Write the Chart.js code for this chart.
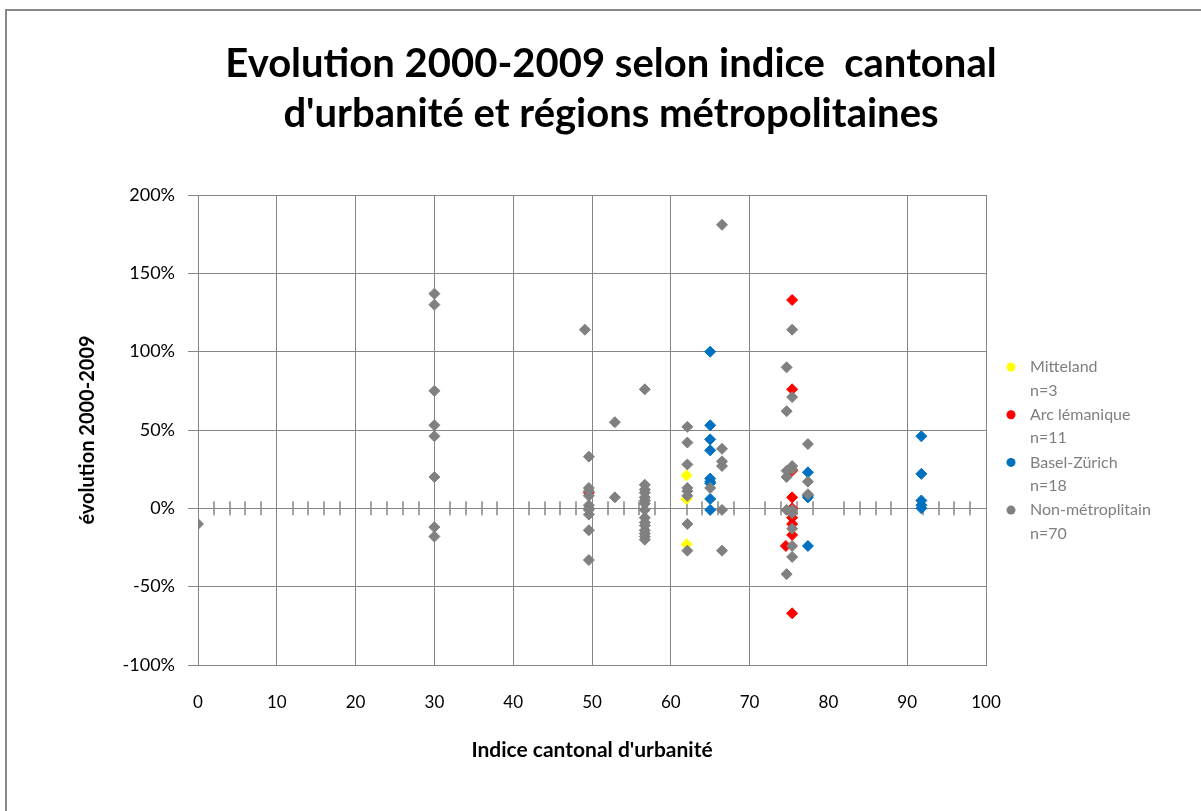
<!DOCTYPE html>
<html>
<head>
<meta charset="utf-8">
<title>Evolution 2000-2009</title>
<script src="https://cdn.jsdelivr.net/npm/chart.js@4.4.0/dist/chart.umd.min.js"></script>
<style>
  html, body { margin: 0; padding: 0; background: #fff; overflow: hidden; }
  #frame {
    position: absolute; left: 5px; top: 9px; width: 1300px; height: 900px;
    border-top: 2px solid #888; border-left: 2px solid #888;
  }
  #chart { position: absolute; left: 0; top: 0; }
</style>
</head>
<body>
<div id="frame"></div>
<canvas id="chart" width="1201" height="811"></canvas>
<script>
'use strict';

// [indice d'urbanité, évolution en %]
let mitteland = [
  [62, 21], [62, 6], [62, -23]
];

let arcLemanique = [
  [49.6, 10],
  [75.4, 133], [75.4, 76], [75.4, 24], [75.4, 7], [75.4, 0], [75.4, -6],
  [75.4, -10], [75.4, -17], [74.6, -24], [75.4, -67]
];

let baselZurich = [
  [65, 100], [65, 53], [65, 44], [65, 37], [65, 19], [65, 17], [65, 16], [65, 6], [65, -1],
  [77.4, 23], [77.4, 8], [77.4, 7], [77.4, -24],
  [91.8, 46], [91.8, 22], [91.8, 5], [91.8, 2], [91.8, 0]
];

let nonMetro = [
  [0, -10],
  [30, 137], [30, 130], [30, 75], [30, 53], [30, 46], [30, 20], [30, -12], [30, -18],
  [49.1, 114],
  [49.6, 33], [49.6, 13], [49.6, 11], [49.6, 8], [49.6, 2], [49.6, 0], [49.6, -1], [49.6, -4], [49.6, -14], [49.6, -33],
  [52.9, 55], [52.9, 7],
  [56.7, 76], [56.7, 15], [56.7, 12], [56.7, 10], [56.7, 7], [56.7, 5], [56.7, 3], [56.7, -1],
  [56.7, -6], [56.7, -9], [56.7, -11], [56.7, -14], [56.7, -16], [56.7, -18], [56.7, -20],
  [62.1, 52], [62.1, 42], [62.1, 28], [62.1, 13], [62.1, 11], [62.1, 8], [62.1, -10], [62.1, -27],
  [65, 13],
  [66.5, 181], [66.5, 38], [66.5, 30], [66.5, 27], [66.5, -1], [66.5, -27],
  [74.7, 90], [74.7, 62], [74.7, 24], [74.7, 20], [74.7, -1], [74.7, -42],
  [75.4, 114], [75.4, 71], [75.4, 27], [75.4, 25], [75.4, -1], [75.4, -3], [75.4, -13], [75.4, -24], [75.4, -31],
  [77.4, 41], [77.4, 17], [77.4, 9]
];

let seriesNames = ['Mitteland', 'Arc lémanique', 'Basel-Zürich', 'Non-métroplitain'];
let seriesColors = ['#ffff00', '#ff0000', '#0070c0', '#808080'];
let titleLines = ['Evolution 2000-2009 selon indice  cantonal', 'd\'urbanité et régions métropolitaines'];

const gridColor = '#868686';
Chart.defaults.font.family = 'Lato';

function toPoints(arr) {
  return arr.map(p => ({ x: p[0], y: p[1] }));
}

// chart title, drawn by hand so it can sit a bit right of center like the original
const chartTitle = {
  id: 'chartTitle',
  afterDraw(chart) {
    const ctx = chart.ctx;
    ctx.save();
    ctx.font = 'bold 40px Lato';
    ctx.fillStyle = '#000';
    ctx.textAlign = 'center';
    ctx.textBaseline = 'alphabetic';
    for (let i = 0; i < titleLines.length; i++) {
      ctx.fillText(titleLines[i], 611, 77 + i * 50);
    }
    ctx.restore();
  }
};

// little tick marks across the 0% line, every 2 units
const zeroTicks = {
  id: 'zeroTicks',
  beforeDatasetsDraw(chart) {
    const ctx = chart.ctx;
    const x = chart.scales.x;
    const y0 = chart.scales.y.getPixelForValue(0);
    ctx.save();
    ctx.strokeStyle = gridColor;
    ctx.lineWidth = 1.5;
    for (let v = 2; v < 100; v += 2) {
      if (v % 10 === 0) continue;
      const px = Math.round(x.getPixelForValue(v));
      ctx.beginPath();
      ctx.moveTo(px, y0 - 7);
      ctx.lineTo(px, y0 + 7);
      ctx.stroke();
    }
    ctx.restore();
  }
};

// legend on the right, two lines per entry (name + n=)
const sideLegend = {
  id: 'sideLegend',
  afterDraw(chart) {
    const ctx = chart.ctx;
    ctx.save();
    ctx.font = '16px Lato';
    ctx.textBaseline = 'middle';
    ctx.textAlign = 'left';
    chart.data.datasets.forEach((ds, i) => {
      const top = 367 + i * 47.7;
      ctx.fillStyle = ds.backgroundColor;
      ctx.beginPath();
      ctx.arc(1011, top, 4.5, 0, Math.PI * 2);
      ctx.fill();
      ctx.fillStyle = '#7f7f7f';
      ctx.fillText(ds.label, 1030, top);
      ctx.fillText('n=' + ds.data.length, 1030, top + 23.5);
    });
    ctx.restore();
  }
};

const allSeries = [mitteland, arcLemanique, baselZurich, nonMetro];
const datasets = allSeries.map((arr, i) => ({
  label: seriesNames[i],
  data: toPoints(arr),
  backgroundColor: seriesColors[i],
  borderColor: seriesColors[i],
  borderWidth: 1,
  pointStyle: 'rectRot',
  pointRadius: 5.5,
  // grey drawn last so it sits on top, like in the excel chart
  order: allSeries.length - i
}));

let ctx = document.getElementById('chart').getContext('2d');
let myChart = new Chart(ctx, {
  type: 'scatter',
  data: { datasets: datasets },
  options: {
    responsive: false,
    animation: false,
    events: [],
    layout: { padding: { top: 195, right: 215, left: 0, bottom: 0 } },
    plugins: {
      legend: { display: false },
      title: { display: false },
      tooltip: { enabled: false }
    },
    scales: {
      x: {
        type: 'linear',
        min: 0,
        max: 100,
        afterFit(scale) { scale.height = 146; },
        ticks: {
          stepSize: 10,
          padding: 27,
          color: '#000',
          font: { size: 17 }
        },
        grid: {
          color: c => (c.tick && c.tick.value === 80) ? 'rgba(0,0,0,0)' : gridColor,
          drawTicks: false
        },
        border: { color: gridColor },
        title: {
          display: true,
          text: 'Indice cantonal d\'urbanité',
          color: '#000',
          font: { size: 21, weight: 'bold' },
          padding: { bottom: 48 }
        }
      },
      y: {
        min: -100,
        max: 200,
        afterFit(scale) { scale.width = 198; },
        ticks: {
          stepSize: 50,
          padding: 13,
          color: '#000',
          font: { size: 18 },
          callback: v => v + '%'
        },
        grid: {
          color: gridColor,
          tickLength: 10
        },
        border: { color: gridColor },
        title: {
          display: true,
          text: 'évolution 2000-2009',
          color: '#000',
          font: { size: 20, weight: 'bold' },
          padding: { top: 76 }
        }
      }
    }
  },
  plugins: [chartTitle, zeroTicks, sideLegend]
});
</script>
</body>
</html>
